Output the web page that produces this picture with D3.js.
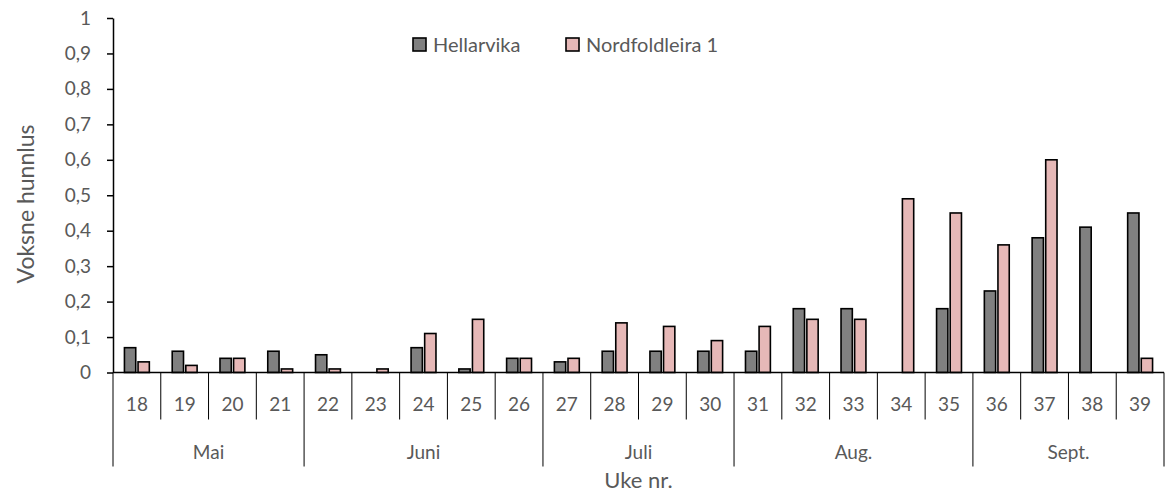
<!DOCTYPE html>
<html>
<head>
<meta charset="utf-8">
<script src="https://cdn.jsdelivr.net/npm/d3@7"></script>
<style>
  body { margin: 0; background: #fff; }
  text { font-family: Lato, "Open Sans", sans-serif; fill: #595959; }
</style>
</head>
<body>
<div id="chart"></div>
<script>
var weeks = ["18","19","20","21","22","23","24","25","26","27","28","29","30","31","32","33","34","35","36","37","38","39"];
var hellarvika = [0.07,0.06,0.04,0.06,0.05,0,0.07,0.01,0.04,0.03,0.06,0.06,0.06,0.06,0.18,0.18,0,0.18,0.23,0.38,0.41,0.45];
var nordfoldleira = [0.03,0.02,0.04,0.01,0.01,0.01,0.11,0.15,0.04,0.04,0.14,0.13,0.09,0.13,0.15,0.15,0.49,0.45,0.36,0.6,0,0.04];
var months = ["Mai","Juni","Juli","Aug.","Sept."];
var monthWeeks = [["18","21"],["22","26"],["27","30"],["31","35"],["36","39"]];
var seriesNames = ["Hellarvika", "Nordfoldleira 1"];
var colors = ["#808080", "#e6b8b7"];
var yTicks = [0,0.1,0.2,0.3,0.4,0.5,0.6,0.7,0.8,0.9,1];

var svgWidth = 1174, svgHeight = 495;
var margin = { top: 18, right: 10, bottom: 122, left: 113 };
var width = 1164 - margin.left;
var height = 372.5 - margin.top;

var svg = d3.select("#chart").append("svg")
    .attr("width", svgWidth)
    .attr("height", svgHeight);

var chartGroup = svg.append("g")
    .attr("transform", `translate(${margin.left}, ${margin.top})`);

var x = d3.scaleBand().domain(weeks).range([0, width]).padding(0);
var y = d3.scaleLinear().domain([0, 1]).range([height, 0]);
var barW = 11.3, barGap = 2.3;
var groupW = barW * 2 + barGap;

// y axis
var yAxis = chartGroup.append("g")
    .call(d3.axisLeft(y).tickValues(yTicks).tickSize(6).tickSizeOuter(0)
        .tickFormat(d => d3.format("")(d).replace(".", ",")));
yAxis.select(".domain").attr("stroke", "#000").attr("stroke-width", 1.5);
yAxis.selectAll(".tick line").attr("stroke", "#000").attr("stroke-width", 1.5);
yAxis.selectAll(".tick text")
    .attr("x", -22)
    .style("font-size", "19px")
    .style("font-family", "Lato, 'Open Sans', sans-serif")
    .attr("fill", "#595959");

// bars
var data = [hellarvika, nordfoldleira];
data.forEach((vals, s) => {
    chartGroup.append("g").selectAll("rect")
        .data(weeks)
        .enter()
        .append("rect")
        .filter((d, i) => vals[i] > 0)
        .attr("x", d => x(d) + (x.bandwidth() - groupW) / 2 + s * (barW + barGap))
        .attr("width", barW)
        .attr("y", d => y(vals[weeks.indexOf(d)]))
        .attr("height", d => height - y(vals[weeks.indexOf(d)]))
        .attr("fill", colors[s])
        .attr("stroke", "#000")
        .attr("stroke-width", 1.6);
});

// x axis line
chartGroup.append("line")
    .attr("x1", 0).attr("x2", width)
    .attr("y1", height).attr("y2", height)
    .attr("stroke", "#000").attr("stroke-width", 1.5);

// week separators
var monthStarts = monthWeeks.map(d => d[0]);
weeks.forEach((w, i) => {
    if (monthStarts.indexOf(w) < 0) {
        chartGroup.append("line")
            .attr("x1", x(w)).attr("x2", x(w))
            .attr("y1", height).attr("y2", height + 47)
            .attr("stroke", "#000").attr("stroke-width", 1);
    }
});
// month separators
monthWeeks.forEach(m => {
    chartGroup.append("line")
        .attr("x1", x(m[0])).attr("x2", x(m[0]))
        .attr("y1", height).attr("y2", height + 94)
        .attr("stroke", "#000").attr("stroke-width", 1);
});
chartGroup.append("line")
    .attr("x1", width).attr("x2", width)
    .attr("y1", height).attr("y2", height + 94)
    .attr("stroke", "#000").attr("stroke-width", 1);

// week labels
chartGroup.selectAll(".weekLabel")
    .data(weeks)
    .enter()
    .append("text")
    .attr("class", "weekLabel")
    .attr("x", d => x(d) + x.bandwidth() / 2)
    .attr("y", height + 38)
    .attr("text-anchor", "middle")
    .style("font-size", "19px")
    .text(d => d);

// month labels
chartGroup.selectAll(".monthLabel")
    .data(months)
    .enter()
    .append("text")
    .attr("class", "monthLabel")
    .attr("x", (d, i) => (x(monthWeeks[i][0]) + x(monthWeeks[i][1]) + x.bandwidth()) / 2)
    .attr("y", height + 86)
    .attr("text-anchor", "middle")
    .style("font-size", "19px")
    .text(d => d);

// axis titles
svg.append("text")
    .attr("x", margin.left + width / 2)
    .attr("y", 488)
    .attr("text-anchor", "middle")
    .style("font-size", "22px")
    .text("Uke nr.");

svg.append("text")
    .attr("transform", "translate(34, 204) rotate(-90)")
    .attr("text-anchor", "middle")
    .style("font-size", "23px")
    .text("Voksne hunnlus");

// legend
var legendX = [413, 566];
seriesNames.forEach((name, i) => {
    var g = svg.append("g").attr("transform", `translate(${legendX[i]}, 38)`);
    g.append("rect")
        .attr("width", 13).attr("height", 13)
        .attr("fill", colors[i])
        .attr("stroke", "#000").attr("stroke-width", 1.6);
    g.append("text")
        .attr("x", 20).attr("y", 14)
        .style("font-size", "20px")
        .text(name);
});
</script>
</body>
</html>
